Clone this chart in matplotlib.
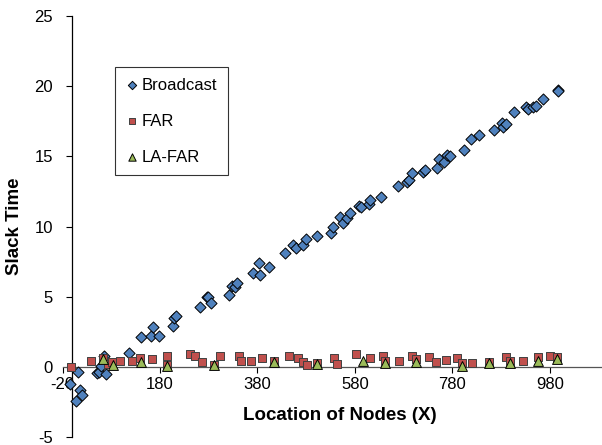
import matplotlib.pyplot as plt

plt.rcParams['font.family'] = ['Liberation Sans', 'DejaVu Sans']
plt.rcParams['axes.unicode_minus'] = False

# Broadcast (diamonds)
bc_x = [-5, 8, 11, 15, 19, 50, 55, 58, 65, 69, 116, 142, 161, 166, 179, 206, 209, 213,
        263, 276, 279, 284, 322, 327, 333, 339, 371, 383, 385, 403, 436, 452, 460, 474,
        480, 503, 530, 536, 549, 555, 563, 570, 589, 592, 609, 611, 633, 669, 686, 690,
        697, 719, 724, 748, 753, 763, 768, 775, 804, 819, 835, 866, 881, 884, 891, 907,
        931, 936, 945, 951, 965, 996, 997]
bc_y = [-1.2, -2.4, -0.4, -1.65, -2.0, -0.45, -0.35, 0.05, 0.78, -0.5, 1.02, 2.1, 2.23,
        2.82, 2.2, 2.94, 3.5, 3.65, 4.25, 4.96, 5.0, 4.53, 5.12, 5.77, 5.72, 6.0, 6.67,
        7.38, 6.55, 7.1, 8.09, 8.68, 8.45, 8.68, 9.09, 9.32, 9.56, 9.99, 10.7, 10.27,
        10.58, 10.94, 11.46, 11.4, 11.6, 11.9, 12.08, 12.88, 13.19, 13.3, 13.79, 13.9,
        14.0, 14.2, 14.78, 14.6, 15.09, 15.0, 15.42, 16.23, 16.55, 16.9, 17.35, 17.1,
        17.27, 18.13, 18.53, 18.4, 18.48, 18.6, 19.07, 19.75, 19.64]

# FAR (squares)
far_x = [-3, 38, 64, 74, 81, 99, 122, 140, 163, 195, 194, 241, 252, 266, 291, 303, 343,
         347, 366, 389, 414, 445, 464, 473, 481, 503, 537, 543, 583, 611, 638, 642, 670,
         697, 706, 733, 746, 767, 790, 799, 821, 855, 891, 899, 924, 956, 980, 995]
far_y = [0.02, 0.45, 0.62, 0.21, 0.31, 0.45, 0.45, 0.62, 0.55, 0.78, 0.14, 0.93, 0.78,
         0.31, 0.14, 0.78, 0.78, 0.45, 0.45, 0.62, 0.45, 0.78, 0.62, 0.38, 0.14, 0.3,
         0.62, 0.21, 0.93, 0.62, 0.78, 0.45, 0.45, 0.78, 0.55, 0.69, 0.38, 0.5, 0.62,
         0.26, 0.26, 0.31, 0.69, 0.45, 0.45, 0.69, 0.78, 0.73]

# LA-FAR (triangles)
lafar_x = [64, 83, 141, 194, 291, 414, 503, 597, 642, 706, 799, 855, 899, 956, 995]
lafar_y = [0.55, 0.14, 0.38, 0.07, 0.14, 0.38, 0.21, 0.45, 0.26, 0.38, 0.07, 0.26, 0.26,
           0.45, 0.55]

x_ticks = [-20, 180, 380, 580, 780, 980]
y_ticks = [-5, 0, 5, 10, 15, 20, 25]

fig = plt.figure(figsize=(6.02, 4.45), dpi=100)
ax = fig.add_axes([62.5 / 602, 8 / 445, (602 - 62.5) / 602, (437 - 16) / 445])

ax.scatter(bc_x, bc_y, marker='D', s=32, c='#4F81BD', edgecolors='black',
           linewidths=0.7, label='Broadcast', zorder=3)
ax.scatter(far_x, far_y, marker='s', s=40, c='#C0504D', edgecolors='#404040',
           linewidths=0.7, label='FAR', zorder=3)
ax.scatter(lafar_x, lafar_y, marker='^', s=50, c='#9BBB59', edgecolors='black',
           linewidths=0.7, label='LA-FAR', zorder=4)

ax.set_xlim(-20, 1087)
ax.set_ylim(-5, 25)
ax.set_xticks(x_ticks)
ax.set_yticks(y_ticks)

ax.spines['top'].set_visible(False)
ax.spines['right'].set_visible(False)
ax.spines['left'].set_position(('data', 0))
ax.spines['bottom'].set_position(('data', 0))
for sp in ['left', 'bottom']:
    ax.spines[sp].set_linewidth(0.9)
ax.spines['bottom'].set_color('#555555')

ax.tick_params(axis='x', direction='out', length=4, pad=3, labelsize=12)
ax.tick_params(axis='y', direction='out', length=4, pad=10, labelsize=12)
ax.patch.set_alpha(0)

fig.text(340 / 602, 1 - 415 / 445, 'Location of Nodes (X)', ha='center', va='center',
         fontsize=13.5, fontweight='bold')
fig.text(15 / 602, 1 - 226 / 445, 'Slack Time', ha='center', va='center',
         rotation=90, fontsize=13.5, fontweight='bold')

leg = ax.legend(loc='upper left', bbox_to_anchor=(115 / 602, 1 - 67 / 445),
                bbox_transform=fig.transFigure, frameon=True, fancybox=False,
                fontsize=12, labelspacing=1.25, handlelength=0.7, handletextpad=0.25,
                borderpad=0.65, borderaxespad=0, markerscale=0.75)
leg.get_frame().set_edgecolor('black')
leg.get_frame().set_linewidth(0.8)

fig.savefig('out.png', dpi=100)
